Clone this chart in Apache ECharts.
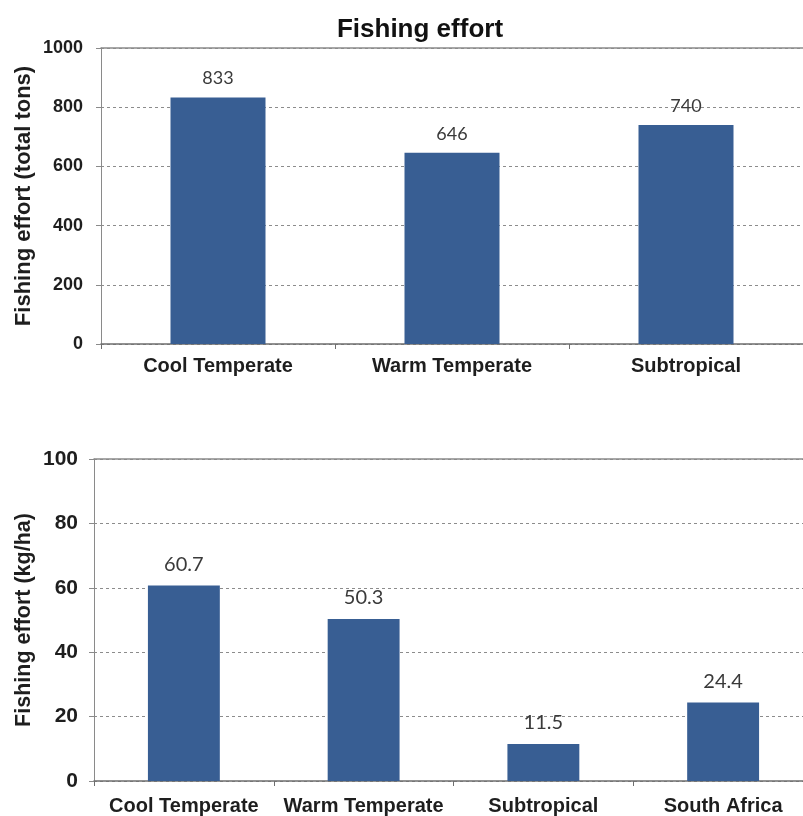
<!DOCTYPE html>
<html>
<head>
<meta charset="utf-8">
<script src="https://cdn.jsdelivr.net/npm/echarts@6/dist/echarts.min.js"></script>
<style>
html,body{margin:0;padding:0;background:#fff;overflow:hidden;width:803px;height:816px;}
#c{width:814px;height:816px;}
</style>
</head>
<body>
<div id="c"></div>
<script>
// Top chart data
var topTitle = 'Fishing effort';
var topCategories = ['Cool Temperate', 'Warm Temperate', 'Subtropical'];
var topValues = [833, 646, 740];
var topYName = 'Fishing effort (total tons)';
var topYMin = 0, topYMax = 1000, topYStep = 200;

// Bottom chart data
var botCategories = ['Cool Temperate', 'Warm Temperate', 'Subtropical', 'South Africa'];
var botValues = [60.7, 50.3, 11.5, 24.4];
var botYName = 'Fishing effort (kg/ha)';
var botYMin = 0, botYMax = 100, botYStep = 20;

var barColor = '#385e93';
var axisColor = '#8a8a8a';
var textColor = '#1e1e1e';
var FONT = '"Liberation Sans", Arial, sans-serif';

var chart = echarts.init(document.getElementById('c'), null, {renderer: 'canvas'});

function catAxis(gridIndex, cats, fontSize, margin) {
  return {
    type: 'category', gridIndex: gridIndex, data: cats, position: 'bottom',
    axisLine: {show: true, lineStyle: {color: '#6e6e6e', width: 1.5}},
    axisTick: {show: true, length: 5, lineStyle: {color: '#6e6e6e'}},
    axisLabel: {color: textColor, fontFamily: FONT, fontWeight: 'bold', fontSize: fontSize, margin: margin, interval: 0},
    splitLine: {show: false}
  };
}
function topFrameAxis(gridIndex, cats) {
  return {
    type: 'category', gridIndex: gridIndex, data: cats, position: 'top',
    axisLine: {show: true, lineStyle: {color: axisColor, width: 1.5}},
    axisTick: {show: false}, axisLabel: {show: false}, splitLine: {show: false}
  };
}
function valAxis(gridIndex, min, max, step, name, fontSize, margin, nameGap, nameSize) {
  return {
    type: 'value', gridIndex: gridIndex, min: min, max: max, interval: step,
    name: name, nameLocation: 'middle', nameGap: nameGap, nameRotate: 90,
    nameMoveOverlap: false,
    nameTextStyle: {color: textColor, fontFamily: FONT, fontWeight: 'bold', fontSize: nameSize},
    axisLine: {show: true, lineStyle: {color: axisColor, width: 1}},
    axisTick: {show: true, length: 5, lineStyle: {color: axisColor}},
    axisLabel: {color: textColor, fontFamily: FONT, fontWeight: 'bold', fontSize: fontSize, margin: margin,
      formatter: function (v) { return String(v); }},
    splitLine: {show: true, lineStyle: {color: '#8c8c8c', type: [3, 3], width: 1}}
  };
}

chart.setOption({
  animation: false,
  backgroundColor: '#ffffff',
  title: [{
    text: topTitle, left: 415, top: 12, textAlign: 'center',
    textStyle: {fontFamily: FONT, fontWeight: 'bold', fontSize: 26, color: '#111'}
  }],
  grid: [
    {left: 101, width: 702, top: 48, height: 296, containLabel: false},
    {left: 94, width: 719, top: 459, height: 324, containLabel: false}
  ],
  xAxis: [
    catAxis(0, topCategories, 20, 12),
    topFrameAxis(0, topCategories),
    catAxis(1, botCategories, 20, 15),
    topFrameAxis(1, botCategories)
  ],
  yAxis: [
    valAxis(0, topYMin, topYMax, topYStep, topYName, 18, 18, 66, 22),
    valAxis(1, botYMin, botYMax, botYStep, botYName, 21, 16, 59, 21.5)
  ],
  series: [
    {
      type: 'bar', xAxisIndex: 0, yAxisIndex: 0, data: topValues, barWidth: '40.6%',
      itemStyle: {color: barColor},
      label: {show: true, position: 'top', distance: 10, color: '#3a3a3a', fontFamily: 'Lato, "Open Sans", sans-serif', fontSize: 18}
    },
    {
      type: 'bar', xAxisIndex: 2, yAxisIndex: 1, data: botValues, barWidth: '40%',
      itemStyle: {color: barColor},
      label: {show: true, position: 'top', distance: 11, color: '#3a3a3a', fontFamily: 'Lato, "Open Sans", sans-serif', fontSize: 20}
    }
  ]
});
</script>
</body>
</html>
